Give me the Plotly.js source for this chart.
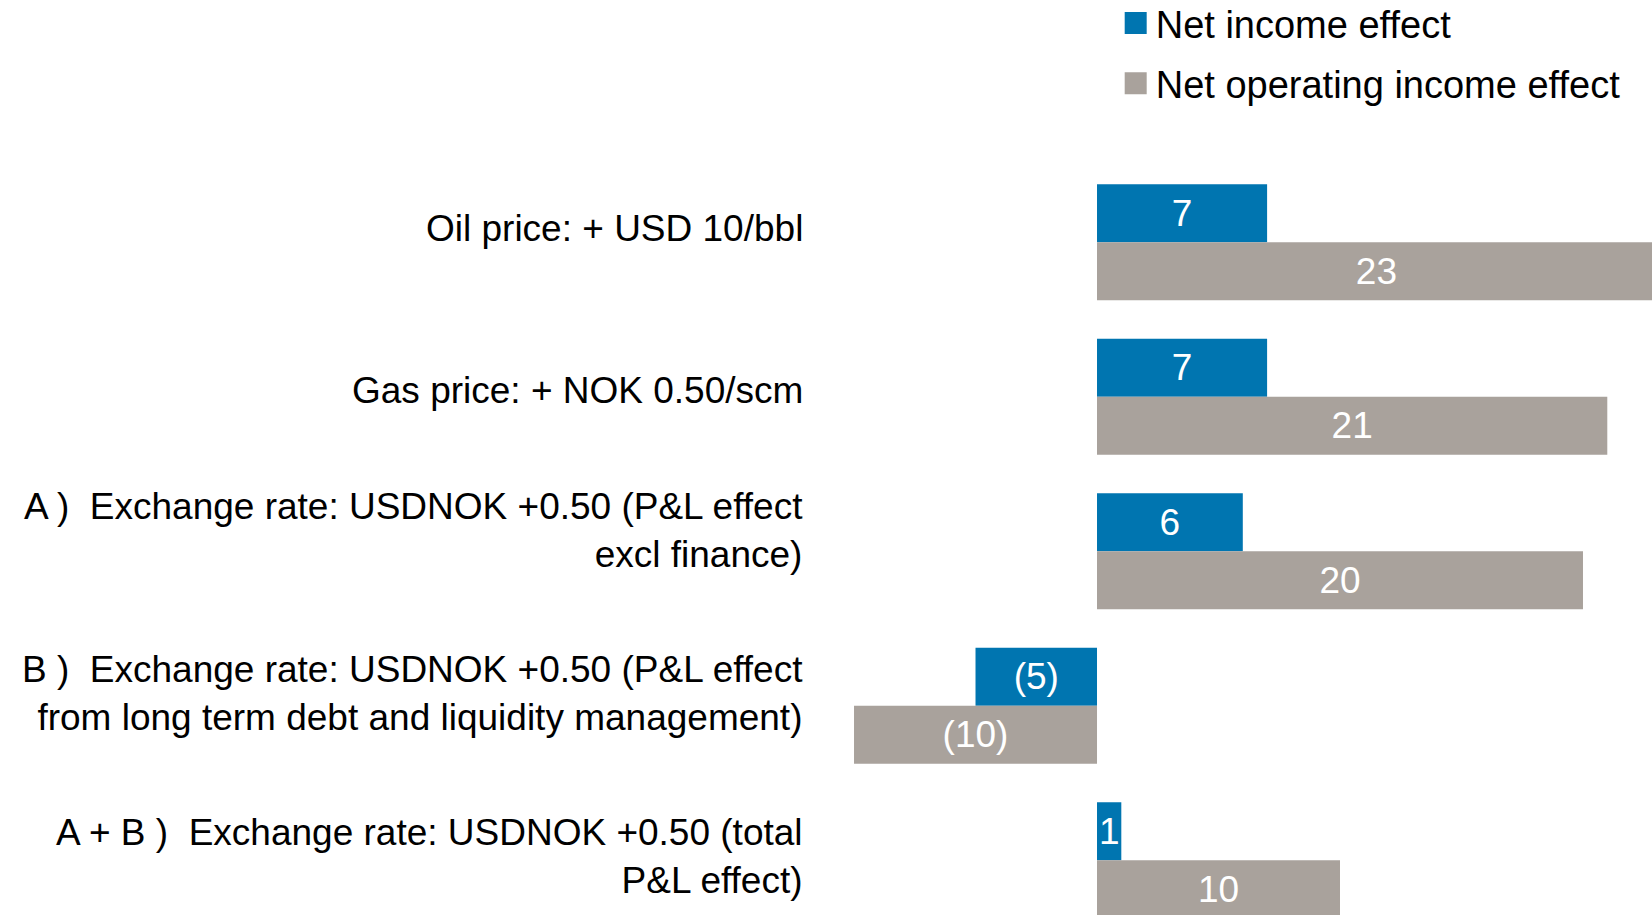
<!DOCTYPE html>
<html>
<head>
<meta charset="utf-8">
<script src="https://cdn.plot.ly/plotly-3.0.1.min.js"></script>
<style>html,body{margin:0;padding:0;background:#fff;}#chart{width:1652px;height:915px;}</style>
</head>
<body>
<div id="chart"></div>
<script>
// ---- data ----
const categories = [
  "Oil price: + USD 10/bbl",
  "Gas price: + NOK 0.50/scm",
  "A )  Exchange rate: USDNOK +0.50 (P&L effect<br>excl finance)",
  "B )  Exchange rate: USDNOK +0.50 (P&L effect<br>from long term debt and liquidity management)",
  "A + B )  Exchange rate: USDNOK +0.50 (total<br>P&L effect)"
];
const netIncome = [7, 7, 6, -5, 1];
const netOperatingIncome = [23, 21, 20, -10, 10];
const seriesNames = ["Net income effect", "Net operating income effect"];

// ---- styling ----
const labelShift = [14, 6, 21, 12, 4];
const FONT = "Liberation Sans, Arial, sans-serif";
const fmt = v => v < 0 ? "(" + (-v) + ")" : String(v);
const yIdx = categories.map((c, i) => i);

function barTrace(vals, name, color) {
  return {
    type: "bar", orientation: "h",
    x: vals, y: yIdx, name: name,
    marker: {color: color, line: {width: 0}},
    text: vals.map(fmt),
    textposition: "inside", insidetextanchor: "middle",
    constraintext: "none",
    textfont: {family: FONT, size: 37, color: "#ffffff"},
    hoverinfo: "skip"
  };
}

const data = [
  Object.assign(barTrace(netIncome, seriesNames[0], "#0075B0"), {legendgroup: "a"}),
  Object.assign(barTrace(netOperatingIncome, seriesNames[1], "#A9A29C"), {legendgroup: "b"})
];

const annotations = categories.map((c, i) => ({
  xref: "paper", yref: "y", x: 0, y: i, xanchor: "right", yanchor: "middle",
  xshift: -15, yshift: labelShift[i], align: "right", showarrow: false,
  text: c, font: {family: FONT, size: 37, color: "#000000"}
}));

const layout = {
  width: 1652, height: 915,
  margin: {l: 820, r: 0, t: 165, b: 0, autoexpand: false},
  paper_bgcolor: "#ffffff", plot_bgcolor: "#ffffff",
  barmode: "group", bargap: 0.25, bargroupgap: 0,
  xaxis: {range: [-11.40, 22.84], visible: false, showgrid: false, zeroline: false},
  yaxis: {type: "linear", range: [4.354, -0.5], visible: false, showgrid: false, zeroline: false},
  showlegend: true,
  legend: {
    x: 0.3554, y: 1.231, xanchor: "left", yanchor: "top",
    font: {family: FONT, size: 38, color: "#000000"},
    traceorder: "grouped", tracegroupgap: 8,
    bgcolor: "rgba(0,0,0,0)", borderwidth: 0
  },
  annotations: annotations
};

Plotly.newPlot("chart", data, layout, {displayModeBar: false, staticPlot: true}).then(() => {
  document.querySelectorAll(".legendpoints path").forEach(p => p.setAttribute("d", "M11,11H-11V-11H11Z"));
});
</script>
</body>
</html>
